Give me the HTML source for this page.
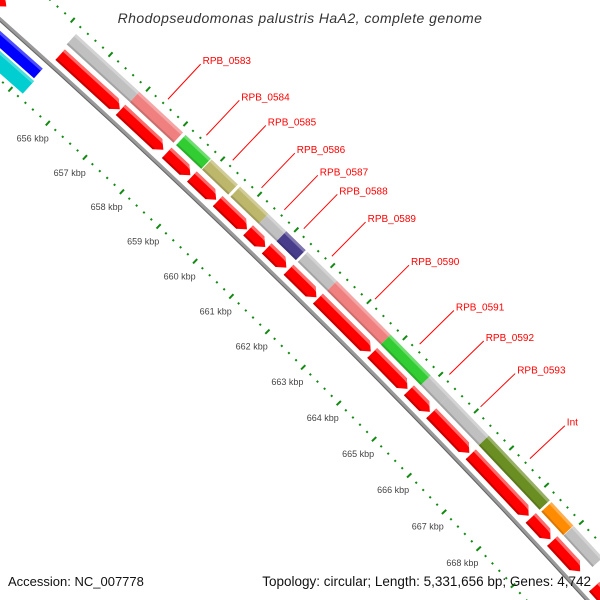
<!DOCTYPE html>
<html><head><meta charset="utf-8"><style>
html,body{margin:0;padding:0;background:#fff;width:600px;height:600px;overflow:hidden;}
svg{display:block;font-family:"Liberation Sans",sans-serif;overflow:hidden;}
</style></head><body>
<svg id="map" width="600" height="600" viewBox="0 0 600 600" xmlns="http://www.w3.org/2000/svg">
<rect width="600" height="600" fill="#fff"/>
<g id="ticks"></g>
<g id="feats"></g>
<g id="labels"></g>
<text x="300" y="23" text-anchor="middle" font-size="14" font-style="italic" fill="#333" letter-spacing="0.45">Rhodopseudomonas palustris HaA2, complete genome</text>
<text x="8" y="586" font-size="13" fill="#111">Accession: NC_007778</text>
<text x="591" y="586" text-anchor="end" font-size="13.5" fill="#111">Topology: circular; Length: 5,331,656 bp; Genes: 4,742</text>
</svg>
<script>
// data (kbp)
const tickKbp = [656,657,658,659,660,661,662,663,664,665,666,667,668];
const tickLabels = ["656 kbp","657 kbp","658 kbp","659 kbp","660 kbp","661 kbp","662 kbp","663 kbp","664 kbp","665 kbp","666 kbp","667 kbp","668 kbp"];
const outerStart = [655.23,656.91,658.15,658.85,659.62,660.39,660.88,661.46,662.27,663.76,664.88,665.41,666.52,668.31,668.95];
const outerEnd   = [656.91,658.08,658.83,659.56,660.39,660.88,661.41,662.27,663.76,664.88,665.41,666.52,668.26,668.94,669.79];
const outerColor = ["#c0c0c0","#f08080","#32cd32","#bdb76b","#bdb76b","#c0c0c0","#483d8b","#c0c0c0","#f08080","#32cd32","#c0c0c0","#c0c0c0","#6b8e23","#ff8c00","#c0c0c0"];
const redStart = [652.5,655.27,656.88,658.12,658.80,659.50,660.33,660.84,661.44,662.25,663.76,664.79,665.42,666.54,668.26,668.88,670.1];
const redEnd   = [653.85,656.86,658.03,658.76,659.46,660.30,660.80,661.38,662.21,663.72,664.75,665.38,666.50,668.20,668.83,669.69,672];
const innerStart = [652.0,652.0];
const innerEnd = [655.2,655.24];
const innerColor = ["#0000ff","#00ced1"];
const labelText = ["RPB_0583","RPB_0584","RPB_0585","RPB_0586","RPB_0587","RPB_0588","RPB_0589","RPB_0590","RPB_0591","RPB_0592","RPB_0593","Int"];
const labelKbp = [657.42,658.45,659.16,659.94,660.56,661.09,661.86,663.05,664.29,665.12,666.0,667.4];

const NS="http://www.w3.org/2000/svg";
const CX=-5176, CY=5844;
function ang(k){return (-47.6+(k-656)*0.3733)*Math.PI/180;}
function pt(k,r){const a=ang(k);return [CX+r*Math.cos(a),CY+r*Math.sin(a)];}
function poly(parent,pts,fill,name){
  const p=document.createElementNS(NS,'polygon');
  p.setAttribute('points',pts.map(q=>q[0].toFixed(2)+','+q[1].toFixed(2)).join(' '));
  p.setAttribute('fill',fill);
  
  
  parent.appendChild(p);return p;
}
function band(parent,k1,k2,r1,r2,fill,name){
  return poly(parent,[pt(k1,r1),pt(k2,r1),pt(k2,r2),pt(k1,r2)],fill,name);
}
const T=document.getElementById('ticks'),F=document.getElementById('feats'),L=document.getElementById('labels');

// dotted tick rings
[7840,7747].forEach((r,ri)=>{
  for(let i=0;i<=110;i++){
    const k=650+i*0.2;
    const major=Math.abs(k-Math.round(k))<0.01;
    const a=pt(k,major?r-3:r-1), b=pt(k,major?r+3:r+1);
    const ln=document.createElementNS(NS,'line');
    ln.setAttribute('x1',a[0]);ln.setAttribute('y1',a[1]);ln.setAttribute('x2',b[0]);ln.setAttribute('y2',b[1]);
    ln.setAttribute('stroke','#128a12');ln.setAttribute('stroke-width',2);
    
    
    T.appendChild(ln);
  }
});
// tick labels
tickKbp.forEach((k,i)=>{
  const p=pt(k,7726);
  const t=document.createElementNS(NS,'text');
  t.setAttribute('x',(p[0]-1).toFixed(1));t.setAttribute('y',(p[1]+3).toFixed(1));
  t.setAttribute('text-anchor','middle');t.setAttribute('font-size','9');t.setAttribute('fill','#444');
  
  
  t.textContent=tickLabels[i];T.appendChild(t);
});

// backbone
const bb=document.createElementNS(NS,'circle');
bb.setAttribute('cx',CX);bb.setAttribute('cy',CY);bb.setAttribute('r',7792);
bb.setAttribute('fill','none');bb.setAttribute('stroke','#999');bb.setAttribute('stroke-width','4');


F.appendChild(bb);
const bb2=document.createElementNS(NS,'circle');
bb2.setAttribute('cx',CX);bb2.setAttribute('cy',CY);bb2.setAttribute('r',7790.5);
bb2.setAttribute('fill','none');bb2.setAttribute('stroke','#666');bb2.setAttribute('stroke-width','1');


F.appendChild(bb2);

// inner features
const innerR=[[7771,7784],[7752,7769]];
innerStart.forEach((s,i)=>{
  band(F,s,innerEnd[i],innerR[i][0],innerR[i][1],innerColor[i],'inner-feature');
  band(F,s,innerEnd[i],innerR[i][1]-3,innerR[i][1],'rgba(255,255,255,0.3)','inner-feature-highlight');
});

// outer features
outerStart.forEach((s,i)=>{
  const e=outerEnd[i];
  band(F,s,e,7818,7832,outerColor[i],'outer-feature');
  band(F,s,e,7829,7832,'rgba(255,255,255,0.3)','outer-feature-highlight');
  band(F,s,e,7818,7820,'rgba(0,0,0,0.15)','outer-feature-shadow');
});

// red arrows
const h=0.16, r1=7799, r2=7813, rm=7806;
redStart.forEach((s,i)=>{
  const e=redEnd[i];
  poly(F,[pt(s,r1),pt(e-h,r1),pt(e,rm),pt(e-h,r2),pt(s,r2)],'#ff0000','red-gene-arrow');
  poly(F,[pt(s,r2-3),pt(e-h,r2-3),pt(e-h*0.5,rm+3.5),pt(e-h,r2),pt(s,r2)],'#ff6b6b','red-gene-arrow-highlight');
  poly(F,[pt(s,r1),pt(e-h,r1),pt(e-h*0.85,r1+2),pt(s,r1+2)],'#c80000','red-gene-arrow-shadow');
});

// labels
labelKbp.forEach((k,i)=>{
  const a=pt(k,7846), b=pt(k,7894);
  const ln=document.createElementNS(NS,'line');
  ln.setAttribute('x1',a[0]);ln.setAttribute('y1',a[1]);ln.setAttribute('x2',b[0]);ln.setAttribute('y2',b[1]);
  ln.setAttribute('stroke','#ff0000');ln.setAttribute('stroke-width','1');
  
  
  L.appendChild(ln);
  const t=document.createElementNS(NS,'text');
  t.setAttribute('x',(b[0]+2).toFixed(1));t.setAttribute('y',(b[1]).toFixed(1));
  t.setAttribute('font-size','10');t.setAttribute('fill','#ff0000');
  
  
  t.textContent=labelText[i];L.appendChild(t);
});
</script>
</body></html>
